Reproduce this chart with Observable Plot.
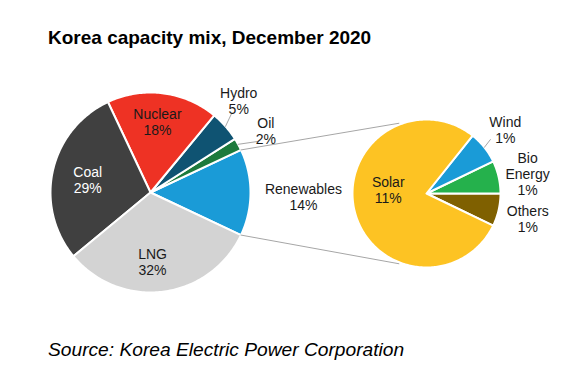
<!DOCTYPE html>
<html>
<head>
<meta charset="utf-8">
<script src="https://cdn.jsdelivr.net/npm/d3@7"></script>
<script src="https://cdn.jsdelivr.net/npm/@observablehq/plot@0.6"></script>
<style>
  html, body { margin: 0; padding: 0; background: #fff; }
  body { width: 585px; height: 375px; overflow: hidden; font-family: "Liberation Sans", Arial, sans-serif; }
  #title { box-sizing: border-box; height: 60px; padding: 28px 0 0 48px; font-size: 19px; line-height: 19px; font-weight: bold; color: #000; white-space: nowrap; }
  #caption { box-sizing: border-box; padding: 10px 0 0 48px; font-size: 19.2px; line-height: 19px; font-style: italic; color: #000; white-space: nowrap; }
  #chart svg { display: block; }
</style>
</head>
<body>
<div id="title">Korea capacity mix, December 2020</div>
<div id="chart"></div>
<div id="caption">Source: Korea Electric Power Corporation</div>
<script>
// ---- Data ----
const mainNames = ["Renewables", "Oil", "Hydro", "Nuclear", "Coal", "LNG"];
const mainValues = [14, 2, 5, 18, 29, 32];
const mainColors = ["#1a9bd7", "#1d7a3c", "#0f5372", "#ee3224", "#404040", "#d3d3d3"];

const subNames = ["Others", "Bio\nEnergy", "Wind", "Solar"];
const subValues = [1, 1, 1, 11];
const subColors = ["#7f6000", "#25b14c", "#1a9bd7", "#fdc323"];

// ---- Layout (positions / styles) ----
const W = 585, H = 270;
const mainPie = {cx: 150, cy: 132, r: 100};
const subPie = {cx: 426, cy: 133, r: 74};
const mainLabelR = [1.53, 1.31, 1.27, 0.71, 0.64, 0.69];
const mainLabelDA = [-1.5, -0.5, 4.6, 1.6, 1.6, -5.5];
const mainLabelColor = ["#1a1a1a", "#1a1a1a", "#1a1a1a", "#1a1a1a", "#ffffff", "#1a1a1a"];
const subLabelR = [1.41, 1.39, 1.37, 0.52];
const subLabelDA = [-1, -2.1, 0.4, -18.9];
const subLabelColor = ["#1a1a1a", "#1a1a1a", "#1a1a1a", "#1a1a1a"];
const connectorAngle = 111.5;

const rad = d => d * Math.PI / 180;
const pt = (pie, rf, a) => ({x: pie.cx + pie.r * rf * Math.cos(rad(a)), y: pie.cy - pie.r * rf * Math.sin(rad(a))});

function slices(pie, names, values, colors, start) {
  const total = d3.sum(values);
  let a0 = start;
  return names.map((n, i) => {
    const span = values[i] / total * 360;
    const s = {name: n, value: values[i], color: colors[i], a0, a1: a0 + span, mid: a0 + span / 2};
    a0 += span;
    return s;
  });
}

const mainTotal = d3.sum(mainValues);
const mainSlices = slices(mainPie, mainNames, mainValues, mainColors, -mainValues[0] / mainTotal * 360 / 2);
const subTotal = d3.sum(subValues);
const subSlices = slices(subPie, subNames, subValues, subColors, -subValues[0] / subTotal * 360);

function polys(pie, sl, tag) {
  const out = [];
  sl.forEach(s => {
    const key = tag + s.name;
    out.push({key, color: s.color, ...pt(pie, 0, 0)});
    const n = Math.max(2, Math.ceil((s.a1 - s.a0) / 1));
    for (let k = 0; k <= n; k++) {
      const a = s.a0 + (s.a1 - s.a0) * k / n;
      out.push({key, color: s.color, ...pt(pie, 1, a)});
    }
  });
  return out;
}

const slicePts = [...polys(mainPie, mainSlices, "m"), ...polys(subPie, subSlices, "s")];

const labels = [
  ...mainSlices.map((s, i) => ({text: s.name + "\n" + s.value + "%", fill: mainLabelColor[i], ...pt(mainPie, mainLabelR[i], s.mid + mainLabelDA[i])})),
  ...subSlices.map((s, i) => ({text: s.name + "\n" + s.value + "%", fill: subLabelColor[i], ...pt(subPie, subLabelR[i], s.mid + subLabelDA[i])}))
];

// connector lines between renewables slice and the secondary pie
const ren = mainSlices[0];
const connectors = [
  {id: "top", ...pt(mainPie, 1, ren.a1)}, {id: "top", ...pt(subPie, 1.02, connectorAngle)},
  {id: "bot", ...pt(mainPie, 1, ren.a0)}, {id: "bot", ...pt(subPie, 1.02, -connectorAngle)}
];

// leader lines for small outside labels
const hydro = mainSlices[2], oil = mainSlices[1], wind = subSlices[2];
const leaders = [
  {id: "h", ...pt(mainPie, 1.0, hydro.mid)}, {id: "h", ...pt(mainPie, 1.14, hydro.mid + 3)},
  {id: "o", ...pt(mainPie, 1.0, oil.mid)}, {id: "o", ...pt(mainPie, 1.185, oil.mid - 3.3)},
  {id: "w", ...pt(subPie, 1.0, wind.mid)}, {id: "w", ...pt(subPie, 1.13, wind.mid + 1.6)}
];

const chart = Plot.plot({
  width: W, height: H, margin: 0,
  x: {domain: [0, W], range: [0, W], axis: null},
  y: {domain: [0, H], range: [0, H], axis: null},
  color: {type: "identity"},
  style: {fontFamily: "'Liberation Sans', Arial, sans-serif", background: "#fff"},
  marks: [
    Plot.line(slicePts, {x: "x", y: "y", z: "key", fill: "color", stroke: "#ffffff", strokeWidth: 2, strokeLinejoin: "round", curve: "linear-closed"}),
    Plot.line(connectors, {x: "x", y: "y", z: "id", stroke: "#a6a6a6", strokeWidth: 1}),
    Plot.line(leaders, {x: "x", y: "y", z: "id", stroke: "#a6a6a6", strokeWidth: 1}),
    Plot.text(labels, {x: "x", y: "y", text: "text", fill: "fill", fontSize: 14, lineHeight: 1.143, textAnchor: "middle"})
  ]
});
document.getElementById("chart").appendChild(chart);
</script>
</body>
</html>
